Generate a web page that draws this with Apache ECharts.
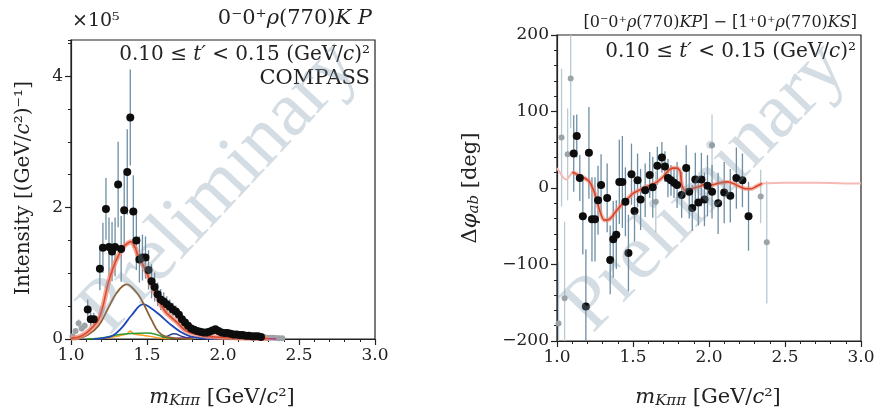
<!DOCTYPE html>
<html><head><meta charset="utf-8">
<script src="https://cdn.jsdelivr.net/npm/echarts@6/dist/echarts.min.js"></script>
<style>html,body{margin:0;padding:0;background:#fff}#c{width:878px;height:411px}</style>
</head><body><div id="c"></div><script>
// ---------- Left panel: intensity (x10^5) ----------
const massL = [1.11,1.13,1.15,1.19,1.21,1.23,1.25,1.27,1.29,1.31,1.33,1.35,1.37,1.39,1.41,1.43,1.45,1.47,1.49,1.51,1.53,1.55,1.57,1.59,1.61,1.63,1.65,1.67,1.69,1.71,1.73,1.75,1.77,1.79,1.81,1.83,1.85,1.87,1.89,1.91,1.93,1.95,1.97,1.99,2.01,2.03,2.05,2.07,2.09,2.11,2.13,2.15,2.17,2.19,2.21,2.23,2.25];
const intenL = [0.45,0.30,0.30,1.07,1.39,1.98,1.40,1.33,1.40,2.35,1.37,1.96,2.54,3.37,1.94,1.50,1.21,1.24,1.24,1.05,0.88,0.79,0.68,0.60,0.57,0.53,0.49,0.45,0.42,0.37,0.30,0.25,0.20,0.16,0.14,0.12,0.11,0.10,0.10,0.11,0.13,0.15,0.12,0.10,0.09,0.09,0.08,0.07,0.07,0.06,0.06,0.05,0.05,0.04,0.04,0.04,0.03];
const errL = [0.15,0.10,0.10,0.33,0.38,0.47,0.45,0.45,0.45,0.65,0.50,0.55,0.65,0.73,0.55,0.45,0.35,0.35,0.32,0.30,0.26,0.22,0.18,0.16,0.14,0.12,0.11,0.10,0.09,0.08,0.07,0.06,0.05,0.05,0.04,0.03,0.03,0.03,0.03,0.03,0.03,0.03,0.03,0.03,0.02,0.02,0.02,0.02,0.02,0.02,0.02,0.02,0.02,0.02,0.02,0.02,0.02];
const massLGray = [1.01,1.03,1.05,1.07,1.09,2.27,2.29,2.31,2.33,2.35,2.37,2.39];
const intenLGray = [0.04,0.12,0.24,0.16,0.20,0.03,0.02,0.02,0.02,0.015,0.01,0.01];
const errLGray = [0.03,0.05,0.06,0.05,0.06,0.02,0.02,0.02,0.02,0.02,0.02,0.02];

const totX = [1.00,1.05,1.10,1.15,1.18,1.21,1.245,1.28,1.31,1.345,1.375,1.395,1.42,1.44,1.49,1.53,1.575,1.62,1.66,1.70,1.76,1.85,1.95,2.10,2.30];
const totY = [0.01,0.03,0.09,0.20,0.29,0.50,0.85,1.10,1.26,1.40,1.46,1.48,1.40,1.28,1.05,0.82,0.59,0.42,0.33,0.25,0.12,0.06,0.03,0.015,0.005];
const brownX = [1.00,1.05,1.11,1.18,1.245,1.30,1.366,1.42,1.465,1.53,1.575,1.62,1.70,1.80];
const brownY = [0.0,0.01,0.06,0.20,0.47,0.70,0.83,0.74,0.59,0.29,0.11,0.04,0.01,0.0];
const blueX = [1.15,1.20,1.27,1.33,1.40,1.476,1.52,1.585,1.65,1.72,1.78,1.85,1.95];
const blueY = [0.0,0.01,0.045,0.16,0.365,0.53,0.48,0.365,0.23,0.11,0.045,0.015,0.0];
const greenX = [1.10,1.18,1.245,1.32,1.40,1.50,1.56,1.63,1.70];
const greenY = [0.0,0.01,0.035,0.07,0.085,0.09,0.07,0.02,0.005];
const orangeX = [1.15,1.25,1.32,1.37,1.39,1.41,1.46,1.52,1.58,1.65];
const orangeY = [0.0,0.02,0.05,0.08,0.12,0.08,0.06,0.04,0.015,0.0];
const navyX = [1.58,1.63,1.68,1.73,1.80];
const navyY = [0.0,0.04,0.08,0.04,0.0];
const magX = [1.65,1.75,1.85,1.95,2.05,2.20,2.35];
const magY = [0.0,0.02,0.03,0.03,0.02,0.01,0.0];

// ---------- Right panel: phase difference (deg) ----------
const massR = [1.11,1.13,1.15,1.17,1.19,1.21,1.23,1.25,1.27,1.29,1.33,1.35,1.37,1.39,1.41,1.43,1.45,1.47,1.49,1.51,1.53,1.55,1.58,1.61,1.63,1.66,1.69,1.71,1.73,1.75,1.77,1.79,1.82,1.85,1.87,1.89,1.91,1.93,1.95,1.97,1.99,2.02,2.06,2.10,2.14,2.18,2.22,2.26];
const phaseR = [45,68,13,-37,-155,46,-41,-41,-16,4,-13,-94,-67,-61,8,8,-18,-85,18,-30,10,-15,-3,17,1,29,40,28,13,10,7,4,-9,26,-5,-26,11,-19,11,-15,3,-5,-20,-6,-10,13,10,-37];
const errR = [50,28,30,50,75,60,55,55,45,40,45,45,50,45,55,60,45,50,40,40,35,40,35,30,40,25,20,20,25,20,20,30,30,30,35,30,35,30,35,35,40,35,40,40,35,40,35,45];
const massRGray = [1.01,1.03,1.05,1.07,1.09,1.65,2.02,2.34,2.38];
const phaseRGray = [-177,66,-144,44,143,-18,56,-11,-71];
const errRGray = [80,90,100,60,65,40,40,35,80];

const fitPhX = [1.10,1.12,1.15,1.18,1.21,1.23,1.25,1.27,1.29,1.31,1.33,1.36,1.39,1.42,1.46,1.50,1.54,1.58,1.62,1.66,1.70,1.73,1.76,1.79,1.81,1.82,1.84,1.87,1.90,1.94,1.97,2.00,2.04,2.08,2.12,2.16,2.20,2.24,2.28,2.31,2.35];
const fitPhY = [21,19,16,13,9,2,-8,-22,-35,-42,-42,-38,-30,-23,-15,-7,-3,1,4,8,15,22,26,26,22,5,-3,-3,0,2,5,3,5,7,8,6,2,-1,-1,2,6];
const fadeLoX = [1.00,1.02,1.04,1.06,1.08,1.10];
const fadeLoY = [26,20,14,11,15,21];
const fadeHiX = [2.35,2.50,2.70,2.90,3.00];
const fadeHiY = [6,7,7,6,6];

const ticksL = [0,2,4];

const FONT = '"DejaVu Serif", serif';
const INK = '#222';
const zip = (a,b) => a.map((v,i)=>[v,b[i]]);
const errData = (x,y,e) => x.map((v,i)=>[v,y[i]-e[i],y[i]+e[i]]);

function errSeries(xi, yi, data, color, lo, hi){
  return {
    type:'custom', xAxisIndex:xi, yAxisIndex:yi, data, encode:{x:0,y:[1,2]}, z:3, silent:true,
    renderItem(params, api){
      const x = api.value(0);
      const a = Math.max(lo, Math.min(hi, api.value(1)));
      const b = Math.max(lo, Math.min(hi, api.value(2)));
      const p1 = api.coord([x,a]), p2 = api.coord([x,b]);
      return {type:'line', shape:{x1:p1[0],y1:p1[1],x2:p2[0],y2:p2[1]}, style:{stroke:color, lineWidth:1.3}};
    }
  };
}
function lineSeries(xi, yi, x, y, color, w, z, smooth){
  return {type:'line', xAxisIndex:xi, yAxisIndex:yi, data:zip(x,y), showSymbol:false, symbol:'none',
    smooth: smooth===undefined?0.4:smooth, lineStyle:{color, width:w}, z, silent:true};
}
function scatterSeries(xi, yi, x, y, color, size, z){
  return {type:'scatter', xAxisIndex:xi, yAxisIndex:yi, data:zip(x,y), symbolSize:size, itemStyle:{color, opacity:1}, z, silent:true};
}

const axisLineStyle = {color:INK, width:1.2};
const xAxisCfg = gi => ({
  type:'value', gridIndex:gi, min:1, max:3, interval:0.5,
  axisLine:{show:true, onZero:false, lineStyle:axisLineStyle},
  axisTick:{show:true, length:6, lineStyle:axisLineStyle},
  minorTick:{show:true, splitNumber:5, length:3, lineStyle:{color:INK, width:1}},
  splitLine:{show:false}, minorSplitLine:{show:false},
  axisLabel:{formatter:v=>v.toFixed(1), fontFamily:FONT, fontSize:17, color:INK, margin:8}
});

function richText(base){
  return {
    n:{fontFamily:FONT, fontSize:base, color:INK, fill:INK},
    i:{fontFamily:FONT, fontSize:base, fontStyle:'italic', color:INK, fill:INK},
    s:{fontFamily:FONT, fontSize:Math.round(base*0.7), fontStyle:'italic', verticalAlign:'bottom', lineHeight:Math.round(base*0.7), color:INK, fill:INK}
  };
}
function gText(x, y, text, size, align, extra){
  return Object.assign({
    type:'text', x, y, z:50, silent:true,
    style:{text, rich:richText(size), font:size+'px '+FONT, fill:INK,
      textAlign:align, textVerticalAlign:'middle'}
  }, extra||{});
}

const option = {
  animation:false,
  backgroundColor:'#fff',
  grid:[
    {left:71, top:40, width:304, height:299, show:true, borderColor:INK, borderWidth:1.2, backgroundColor:'transparent'},
    {left:557, top:35, width:304, height:306, show:true, borderColor:INK, borderWidth:1.2, backgroundColor:'transparent'}
  ],
  xAxis:[xAxisCfg(0), xAxisCfg(1)],
  yAxis:[
    {type:'value', gridIndex:0, position:'left', min:0, max:4.55, interval:0.5,
      axisLine:{show:true, onZero:false, lineStyle:axisLineStyle},
      axisTick:{show:true, length:6, customValues:ticksL, lineStyle:axisLineStyle},
      axisLabel:{customValues:ticksL, fontFamily:FONT, fontSize:17, color:INK, margin:8},
      splitLine:{show:false}},
    {type:'value', gridIndex:0, position:'left', offset:0, min:0, max:4.55, interval:0.5,
      axisLine:{show:false}, axisLabel:{show:false},
      axisTick:{show:true, length:3, lineStyle:{color:INK, width:1}},
      splitLine:{show:false}},
    {type:'value', gridIndex:1, min:-200, max:200, interval:100,
      axisLine:{show:true, onZero:false, lineStyle:axisLineStyle},
      axisTick:{show:true, length:6, lineStyle:axisLineStyle},
      minorTick:{show:true, splitNumber:5, length:3, lineStyle:{color:INK, width:1}},
      splitLine:{show:false}, minorSplitLine:{show:false},
      axisLabel:{formatter:v=> v<0 ? '\u2212'+(-v) : String(v), fontFamily:FONT, fontSize:17, color:INK, margin:8}}
  ],
  series:[
    // left panel
    errSeries(0,0, errData(massLGray,intenLGray,errLGray), '#b9c9d3', 0, 4.55),
    scatterSeries(0,0, massLGray, intenLGray, '#9da3a7', 6, 4),
    errSeries(0,0, errData(massL,intenL,errL), '#6d8ea4', 0, 4.55),
    lineSeries(0,0, magX, magY, '#c2287e', 1.3, 5),
    lineSeries(0,0, navyX, navyY, '#2b3c92', 1.3, 5),
    lineSeries(0,0, orangeX, orangeY, '#ff9d20', 1.5, 5),
    lineSeries(0,0, greenX, greenY, '#2e9a3a', 1.5, 5),
    lineSeries(0,0, blueX, blueY, '#1d48b8', 1.8, 5),
    lineSeries(0,0, brownX, brownY, '#8c6032', 1.8, 5),
    lineSeries(0,0, totX, totY, 'rgba(240,140,120,0.75)', 5, 6),
    lineSeries(0,0, totX, totY, '#dc4a2e', 1.6, 7),
    scatterSeries(0,0, massL, intenL, '#0d0d0d', 8, 8),
    // right panel
    errSeries(1,2, errData(massRGray,phaseRGray,errRGray), '#b9c9d3', -200, 200),
    scatterSeries(1,2, massRGray, phaseRGray, '#9da3a7', 6, 4),
    errSeries(1,2, errData(massR,phaseR,errR), '#6d8ea4', -200, 200),
    lineSeries(1,2, fadeLoX, fadeLoY, '#f6b9b6', 2, 5),
    lineSeries(1,2, fadeHiX, fadeHiY, '#f6b9b6', 2, 5),
    lineSeries(1,2, fitPhX, fitPhY, 'rgba(240,140,120,0.6)', 4.5, 6, 0.2),
    lineSeries(1,2, fitPhX, fitPhY, '#d9452a', 1.6, 7, 0.2),
    scatterSeries(1,2, massR, phaseR, '#0d0d0d', 8, 8)
  ],
  graphic:[
    // left texts
    gText(72, 21, '{n|\u00d710\u2075}', 19, 'left'),
    gText(372, 19, '{n|0\u207b0\u207a}{i|\u03c1}{n|(770)}{i|K P}', 21, 'right'),
    gText(370, 55, '{n|0.10 \u2264 }{i|t\u2032}{n| < 0.15 (GeV/}{i|c}{n|)\u00b2}', 20, 'right'),
    gText(370, 79, '{n|COMPASS}', 21, 'right'),
    gText(222, 398, '{i|m}{s|K\u03c0\u03c0}{n| [GeV/}{i|c}{n|\u00b2]}', 21, 'center'),
    gText(24, 188, '{n|Intensity [(GeV/}{i|c}{n|\u00b2)\u207b\u00b9]}', 20, 'center', {rotation:Math.PI/2}),
    // right texts
    gText(857, 23, '{n|[0\u207b0\u207a}{i|\u03c1}{n|(770)}{i|KP}{n|] \u2212 [1\u207a0\u207a}{i|\u03c1}{n|(770)}{i|KS}{n|]}', 16, 'right'),
    gText(856, 52, '{n|0.10 \u2264 }{i|t\u2032}{n| < 0.15 (GeV/}{i|c}{n|)\u00b2}', 20, 'right'),
    gText(708, 398, '{i|m}{s|K\u03c0\u03c0}{n| [GeV/}{i|c}{n|\u00b2]}', 21, 'center'),
    gText(471, 188, '{n|\u0394}{i|\u03c6}{s|ab}{n| [deg]}', 21, 'center', {rotation:Math.PI/2}),
    // watermarks
    {type:'text', x:220, y:188, rotation:0.82, z:60, silent:true,
      style:{text:'Preliminary', font:'78px "Liberation Serif", serif', fill:'rgba(120,150,168,0.32)', textAlign:'center', textVerticalAlign:'middle'}},
    {type:'text', x:706, y:188, rotation:0.80, z:60, silent:true,
      style:{text:'Preliminary', font:'78px "Liberation Serif", serif', fill:'rgba(120,150,168,0.32)', textAlign:'center', textVerticalAlign:'middle'}}
  ]
};
const chart = echarts.init(document.getElementById('c'), null, {renderer:'canvas'});
chart.setOption(option);
</script></body></html>
